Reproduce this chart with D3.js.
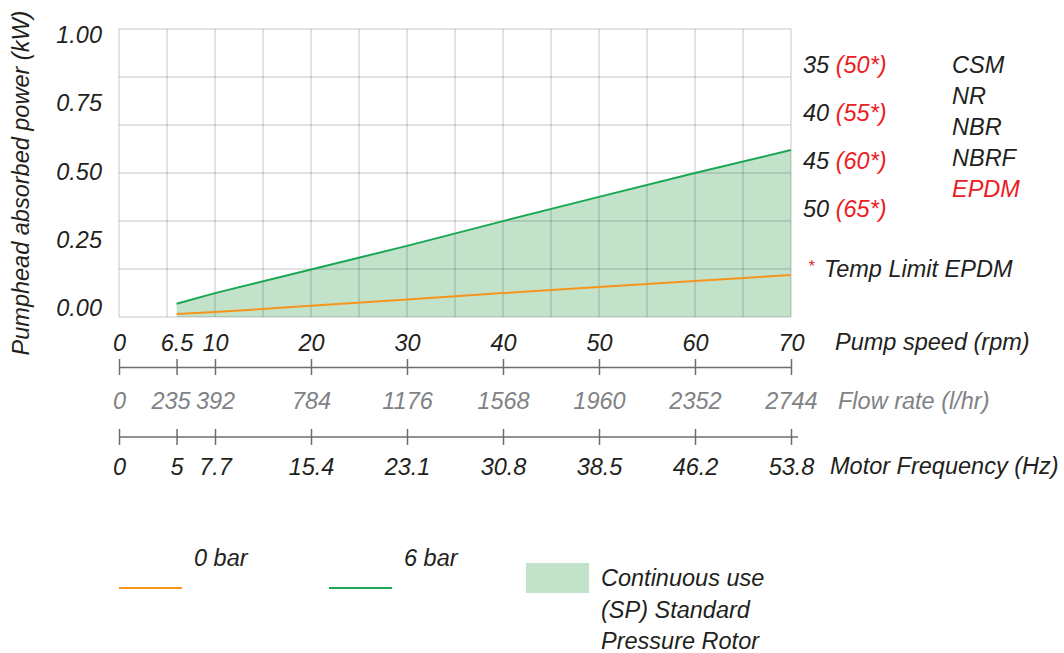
<!DOCTYPE html>
<html>
<head>
<meta charset="utf-8">
<script src="https://cdn.jsdelivr.net/npm/d3@7"></script>
<style>
  body { margin: 0; background: #fff; }
  text { font-family: "Liberation Sans", Arial, sans-serif; font-style: italic; }
</style>
</head>
<body>
<svg id="chart" width="1064" height="653"></svg>
<script>
// values
const speed = [6.0, 10, 20, 30, 40, 50, 60, 70];
const power0bar = [0.010, 0.017, 0.039, 0.061, 0.083, 0.104, 0.125, 0.146];
const power6bar = [0.046, 0.083, 0.165, 0.247, 0.333, 0.417, 0.500, 0.580];

const yTicks = [0, 0.25, 0.5, 0.75, 1];
const flowTicks = [0, 235, 392, 784, 1176, 1568, 1960, 2352, 2744];
const speedTicks = ["0", "6.5", "10", "20", "30", "40", "50", "60", "70"];
const freqTicks = ["0", "5", "7.7", "15.4", "23.1", "30.8", "38.5", "46.2", "53.8"];

const tempRows = [["35", "(50*)"], ["40", "(55*)"], ["45", "(60*)"], ["50", "(65*)"]];
const materials = ["CSM", "NR", "NBR", "NBRF", "EPDM"];

const black = "#231f20", red = "#ed1c24", grey = "#808285";
const green = "#1aa654", orange = "#f7941d", fill = "#c2e3ca";
const fs = 23.5;

let svg = d3.select("#chart");

let x = d3.scaleLinear().domain([0, 70]).range([119, 791]);
// the three bottom scales share one position; ticks are placed by flow rate
let xFlow = d3.scaleLinear().domain([0, 2744]).range(x.range());
let y = d3.scaleLinear().domain([0, 1]).range([317, 29]);
// tick labels sit a little inside the grid
let yLabel = d3.scaleLinear().domain([0, 1]).range([308, 35]);

let rows = speed.map((s, i) => ({s: s, p0: power0bar[i], p6: power6bar[i]}));

// continuous use area (under 6 bar line)
svg.append("path")
    .datum(rows)
    .attr("fill", fill)
    .attr("d", d3.area().x(d => x(d.s)).y0(y(0)).y1(d => y(d.p6)));

// grid on top of the fill
let grid = svg.append("g").attr("stroke", "#000").attr("stroke-opacity", 0.15).attr("stroke-width", 1.5);
grid.selectAll(".v").data(d3.range(0, 71, 5)).join("line")
    .attr("x1", d => x(d)).attr("x2", d => x(d))
    .attr("y1", y(0)).attr("y2", y(1));
grid.selectAll(".h").data(d3.range(0, 7)).join("line")
    .attr("x1", x(0)).attr("x2", x(70))
    .attr("y1", d => y(d / 6)).attr("y2", d => y(d / 6));

// lines
svg.append("path").datum(rows)
    .attr("fill", "none").attr("stroke", orange).attr("stroke-width", 2)
    .attr("d", d3.line().x(d => x(d.s)).y(d => y(d.p0)));
svg.append("path").datum(rows)
    .attr("fill", "none").attr("stroke", green).attr("stroke-width", 2)
    .attr("d", d3.line().x(d => x(d.s)).y(d => y(d.p6)));

// y labels
svg.append("g").selectAll("text").data(yTicks).join("text")
    .attr("x", 102).attr("y", d => yLabel(d))
    .attr("dy", "0.35em")
    .attr("text-anchor", "end")
    .attr("font-size", fs).attr("fill", black)
    .text(d => d.toFixed(2));

svg.append("text")
    .attr("transform", "translate(21,183) rotate(-90)")
    .attr("text-anchor", "middle").attr("dy", "0.35em")
    .attr("font-size", fs).attr("fill", black)
    .text("Pumphead absorbed power (kW)");

// pump speed axis (labels above, ticks crossing the line)
let pumpAxis = svg.append("g")
    .attr("transform", "translate(0,367)")
    .call(d3.axisTop(xFlow).tickValues(flowTicks).tickSize(8).tickSizeOuter(0).tickPadding(8)
        .tickFormat((d, i) => speedTicks[i]));
pumpAxis.selectAll(".tick line").attr("y1", 8);

// flow rate labels (no line)
let flowAxis = svg.append("g")
    .attr("transform", "translate(0,392)")
    .call(d3.axisBottom(xFlow).tickValues(flowTicks).tickSize(0).tickPadding(0)
        .tickFormat(d => d));
flowAxis.select(".domain").remove();
// 235 is nudged left so it does not run into 392
flowAxis.selectAll(".tick text").filter(d => d == 235).attr("dx", -6);

// motor frequency axis
let motorAxis = svg.append("g")
    .attr("transform", "translate(0,437)")
    .call(d3.axisBottom(xFlow).tickValues(flowTicks).tickSize(8).tickPadding(13)
        .tickFormat((d, i) => freqTicks[i]));
motorAxis.select(".domain").remove();
motorAxis.selectAll(".tick line").attr("y1", -8);
motorAxis.append("line")
    .attr("x1", x(0)).attr("x2", x(70) + 7)
    .attr("stroke", "currentColor");

[pumpAxis, flowAxis, motorAxis].forEach(a => {
    a.attr("font-size", fs).attr("font-family", null).attr("color", "#6d6e71");
    a.selectAll(".domain, line").attr("stroke-width", 1.5);
});
pumpAxis.selectAll("text").attr("fill", black);
flowAxis.selectAll("text").attr("fill", grey);
motorAxis.selectAll("text").attr("fill", black);

// axis titles
svg.append("text").attr("x", 835).attr("y", 342).attr("dy", "0.35em")
    .attr("font-size", fs).attr("fill", black).text("Pump speed (rpm)");
svg.append("text").attr("x", 838).attr("y", 401).attr("dy", "0.35em")
    .attr("font-size", fs).attr("fill", grey).text("Flow rate (l/hr)");
svg.append("text").attr("x", 830).attr("y", 466).attr("dy", "0.35em")
    .attr("font-size", fs).attr("fill", black).text("Motor Frequency (Hz)");

// temperature column
let temps = svg.append("g").selectAll("text").data(tempRows).join("text")
    .attr("x", 803).attr("y", (d, i) => 65 + i * 48).attr("dy", "0.35em")
    .attr("font-size", fs).attr("fill", black);
temps.append("tspan").text(d => d[0] + " ");
temps.append("tspan").attr("fill", red).text(d => d[1]);

// materials
svg.append("g").selectAll("text").data(materials).join("text")
    .attr("x", 952).attr("y", (d, i) => 65 + i * 31).attr("dy", "0.35em")
    .attr("font-size", fs)
    .attr("fill", d => d == "EPDM" ? red : black)
    .text(d => d);

let note = svg.append("g");
note.append("text").attr("x", 808).attr("y", 266).attr("dy", "0.35em")
    .attr("font-size", 16).attr("fill", red).text("*");
note.append("text").attr("x", 824).attr("y", 269).attr("dy", "0.35em")
    .attr("font-size", fs).attr("fill", black).text("Temp Limit EPDM");

// legend
let legend = svg.append("g");
legend.append("line").attr("x1", 119).attr("x2", 182).attr("y1", 588).attr("y2", 588)
    .attr("stroke", orange).attr("stroke-width", 2);
legend.append("text").attr("x", 194).attr("y", 558).attr("dy", "0.35em")
    .attr("font-size", fs).attr("fill", black).text("0 bar");
legend.append("line").attr("x1", 329).attr("x2", 392).attr("y1", 588).attr("y2", 588)
    .attr("stroke", green).attr("stroke-width", 2);
legend.append("text").attr("x", 404).attr("y", 558).attr("dy", "0.35em")
    .attr("font-size", fs).attr("fill", black).text("6 bar");
legend.append("rect").attr("x", 526).attr("y", 563).attr("width", 63).attr("height", 30)
    .attr("fill", fill);
legend.selectAll(".cu").data(["Continuous use", "(SP) Standard", "Pressure Rotor"]).join("text")
    .attr("x", 601).attr("y", (d, i) => 578 + i * 31.5).attr("dy", "0.35em")
    .attr("font-size", fs).attr("fill", black)
    .text(d => d);
</script>
</body>
</html>
